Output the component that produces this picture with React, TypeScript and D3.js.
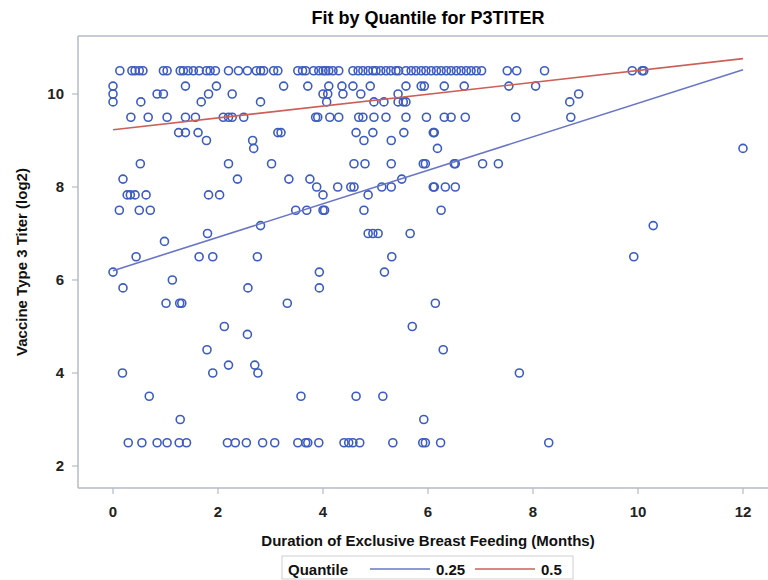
import React from 'react';
import * as d3 from 'd3';

// titer levels (log2) and the months of exclusive breast feeding read at each level
const titerLevels = [10.5, 10.17, 10, 9.83, 9.5, 9.17, 9, 8.83, 8.5, 8.17, 8, 7.83, 7.5, 7.17, 7, 6.83, 6.5, 6.17, 6, 5.83, 5.5, 5, 4.83, 4.5, 4.17, 4, 3.5, 3, 2.5];
const monthsByLevel = [
   [0.13, 0.36, 0.42, 0.5, 0.57, 0.96, 1.03, 1.28, 1.34, 1.43, 1.53, 1.64, 1.78, 1.85, 1.95, 2.2, 2.39, 2.56, 2.73, 2.81, 2.87, 3.06, 3.14, 3.52, 3.61, 3.67, 3.82, 3.92, 4.0, 4.05, 4.11, 4.19, 4.3, 4.57, 4.67, 4.76, 4.86, 4.95, 5.01, 5.1, 5.2, 5.29, 5.39, 5.44, 5.58, 5.68, 5.77, 5.87, 5.96, 6.06, 6.16, 6.25, 6.35, 6.44, 6.54, 6.63, 6.73, 6.82, 6.92, 7.02, 7.51, 7.69, 8.22, 9.89, 10.08, 10.11],
   [0.0, 1.38, 1.97, 3.25, 3.71, 4.11, 4.36, 4.57, 4.9, 5.58, 5.87, 5.93, 6.31, 6.69, 7.54, 8.05],
   [0.0, 0.84, 0.96, 1.82, 2.27, 4.0, 4.09, 4.38, 4.72, 5.43, 8.87],
   [0.0, 0.53, 1.68, 2.81, 4.07, 4.97, 5.16, 5.43, 5.53, 5.58, 8.7],
   [0.34, 0.67, 1.03, 1.38, 1.57, 2.1, 2.2, 2.27, 2.49, 3.86, 3.9, 4.13, 4.3, 4.68, 4.76, 4.97, 5.2, 5.58, 5.97, 6.31, 6.44, 6.71, 7.67, 8.72],
   [1.25, 1.38, 1.62, 3.14, 3.2, 4.63, 4.95, 5.54, 6.1, 6.12],
   [1.78, 2.66, 4.78, 5.3],
   [2.68, 6.18, 12.0],
   [0.52, 2.2, 3.02, 4.59, 4.8, 5.3, 5.91, 5.95, 6.5, 6.52, 7.04, 7.34],
   [0.19, 2.37, 3.35, 3.75, 5.5],
   [3.88, 4.28, 4.53, 4.59, 5.12, 5.3, 6.1, 6.12, 6.33, 6.52],
   [0.27, 0.33, 0.42, 0.63, 1.82, 2.03, 4.0, 4.86],
   [0.12, 0.5, 0.71, 3.48, 3.69, 4.0, 4.03, 4.78, 6.25],
   [2.81, 10.29],
   [1.8, 4.86, 4.95, 5.05, 5.66],
   [0.98],
   [0.44, 1.64, 1.9, 2.75, 5.31, 9.92],
   [0.0, 3.93, 5.17],
   [1.13],
   [0.19, 2.57, 3.93],
   [1.01, 1.27, 1.31, 3.32, 6.14],
   [2.12, 5.7],
   [2.56],
   [1.79, 6.29],
   [2.2, 2.7],
   [0.18, 1.9, 2.76, 7.74],
   [0.69, 3.58, 4.63, 5.14],
   [1.28, 5.92],
   [0.29, 0.55, 0.84, 1.03, 1.26, 1.4, 2.18, 2.33, 2.54, 2.85, 3.08, 3.52, 3.67, 3.71, 3.92, 4.4, 4.49, 4.57, 4.7, 5.33, 5.9, 5.95, 6.24, 8.3],
];

// quantile regression fits
const quantiles = ['0.25', '0.5'];
const intercepts = [6.2, 9.23];
const slopes = [0.36, 0.1275];
const fitColors = ['#6a76c4', '#cc5f58'];

const xTicks = [0, 2, 4, 6, 8, 10, 12];
const yTicks = [2, 4, 6, 8, 10];

const font = "'Liberation Sans', Arial, sans-serif";
const axisColor = '#b4bac8';

export default function App() {
   const width = 768;
   const height = 580;

   const x = d3.scaleLinear().domain([-0.667, 12.667]).range([78, 778]);
   const y = d3.scaleLinear().domain([1.527, 11.247]).range([488, 36]);

   const points = titerLevels.flatMap((t, i) => monthsByLevel[i].map(m => ({ m, t })));

   const [xMin, xMax] = d3.extent(points, d => d.m) as [number, number];
   const line = d3.line<number>().x(m => x(m));

   const [x0, x1] = x.range();
   const [yBottom, yTop] = y.range();
   const cx = (x0 + x1) / 2;

   return (
      <div style={{ position: 'absolute', left: 0, top: 0 }}>
         <svg width={width} height={height} style={{ display: 'block', background: '#fff' }} fontFamily={font}>
            <text x={cx} y={24} textAnchor="middle" fontSize={18} fontWeight="bold" fill="#000">
               Fit by Quantile for P3TITER
            </text>

            {/* frame */}
            <line x1={x0} x2={x1} y1={yTop} y2={yTop} stroke={axisColor} strokeWidth={1.5} />
            <line x1={x0} x2={x1} y1={yBottom} y2={yBottom} stroke={axisColor} strokeWidth={1.5} />
            <line x1={x0} x2={x0} y1={yTop} y2={yBottom} stroke={axisColor} strokeWidth={1.5} />

            {/* y axis */}
            {yTicks.map(t => (
               <g key={t}>
                  <line x1={x0 - 6} x2={x0} y1={y(t)} y2={y(t)} stroke={axisColor} strokeWidth={1.2} />
                  <text x={x0 - 14} y={y(t)} dy="0.36em" textAnchor="end" fontSize={15} fontWeight="bold" fill="#222">
                     {t}
                  </text>
               </g>
            ))}
            {/* x axis */}
            {xTicks.map(t => (
               <g key={t}>
                  <line x1={x(t)} x2={x(t)} y1={yBottom} y2={yBottom + 6} stroke={axisColor} strokeWidth={1.2} />
                  <text x={x(t)} y={yBottom + 29} textAnchor="middle" fontSize={15} fontWeight="bold" fill="#222">
                     {t}
                  </text>
               </g>
            ))}

            <text transform={`translate(27, ${(yTop + yBottom) / 2}) rotate(-90)`} textAnchor="middle" fontSize={15} fontWeight="bold" fill="#111">
               Vaccine Type 3 Titer (log2)
            </text>
            <text x={cx} y={546} textAnchor="middle" fontSize={15} fontWeight="bold" fill="#111">
               Duration of Exclusive Breast Feeding (Months)
            </text>

            {/* observations */}
            {points.map((d, i) => (
               <circle key={i} cx={x(d.m)} cy={y(d.t)} r={4} fill="none" stroke="#3d5cc0" strokeWidth={1.6} />
            ))}

            {/* quantile fits */}
            {quantiles.map((q, i) => (
               <path
                  key={q}
                  d={line.y(m => y(intercepts[i] + slopes[i] * m))([xMin, xMax]) || ''}
                  fill="none"
                  stroke={fitColors[i]}
                  strokeWidth={1.6}
               />
            ))}

            {/* legend */}
            <g>
               <rect x={282} y={556} width={291} height={23} fill="#fff" stroke="#cfcfcf" />
               <text x={288} y={575} fontSize={15} fontWeight="bold" fill="#111">Quantile</text>
               {quantiles.map((q, i) => {
                  const lx = 370 + i * 105;
                  return (
                     <g key={q}>
                        <line x1={lx} x2={lx + 60} y1={569} y2={569} stroke={fitColors[i]} strokeWidth={1.6} />
                        <text x={lx + 66} y={575} fontSize={15} fontWeight="bold" fill="#111">{q}</text>
                     </g>
                  );
               })}
            </g>
         </svg>
      </div>
   );
}
